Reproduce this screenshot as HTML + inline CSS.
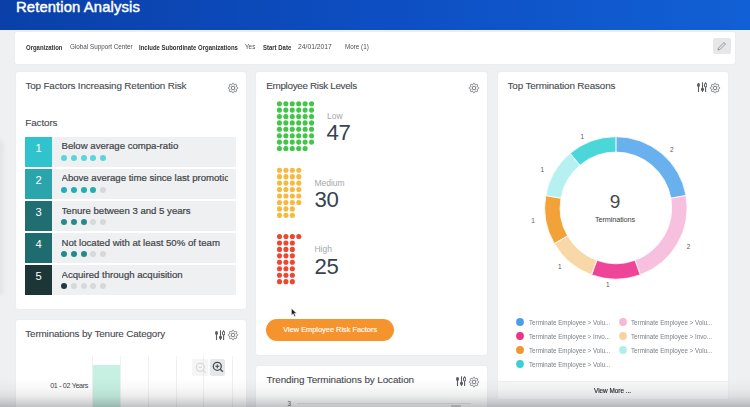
<!DOCTYPE html>
<html><head><meta charset="utf-8">
<style>
*{margin:0;padding:0;box-sizing:border-box}
html,body{width:750px;height:407px;overflow:hidden;background:#eff0f2;font-family:"Liberation Sans",sans-serif;position:relative}
.a{position:absolute;white-space:nowrap}
.hdr{left:0;top:0;width:750px;height:29.5px;background:linear-gradient(90deg,#0a40a8 0%,#0d4ec2 50%,#1260d5 100%)}
.ttl{left:16px;top:-1.3px;color:#fff;font-weight:normal;font-size:14.8px;letter-spacing:0.12px;line-height:16px;-webkit-text-stroke:0.45px #fff}
.card{background:#fff;border-radius:2px;box-shadow:0 0 1.5px rgba(0,0,0,0.08)}
.ct{font-size:9.9px;color:#45494e;line-height:11px;letter-spacing:-0.12px;-webkit-text-stroke:0.1px #45494e}
.fl{font-size:7px;font-weight:bold;color:#2e3034;line-height:8px;transform:scaleX(0.853);transform-origin:0 0}
.fv{font-size:7px;color:#4c5055;line-height:8px;transform:scaleX(0.9);transform-origin:0 0}
.row{left:25px;width:211px;height:30.2px;background:#eef0f2}
.num{left:0;top:0;width:27px;height:30.2px;color:#fff;font-size:11.2px;text-align:center;line-height:22.5px}
.rt{left:36.5px;top:3.8px;font-size:9.6px;color:#3f4347;line-height:11px;overflow:hidden;width:166px;-webkit-text-stroke:0.2px #3f4347}
.dot{position:absolute;border-radius:50%}
.lab{font-size:8.5px;color:#a3a7ab;line-height:10px}
.big{font-size:22.2px;color:#364352;line-height:22px;letter-spacing:-0.45px}
.dl{font-size:6.4px;color:#55595e;line-height:8px}
.leg{font-size:7.3px;color:#7c8085;line-height:9px;transform:scaleX(0.855);transform-origin:0 0}
</style></head><body>
<svg width="0" height="0" style="position:absolute">
<defs>
<symbol id="gear" viewBox="-6 -6 12 12"><path d="M0.00 -4.75 L0.12 -4.74 L0.25 -4.71 L0.37 -4.66 L0.48 -4.60 L0.59 -4.51 L0.70 -4.39 L0.78 -4.23 L0.83 -3.91 L0.90 -3.75 L0.97 -3.63 L1.04 -3.53 L1.12 -3.44 L1.20 -3.38 L1.28 -3.32 L1.36 -3.28 L1.45 -3.25 L1.54 -3.23 L1.64 -3.23 L1.76 -3.23 L1.88 -3.25 L2.01 -3.29 L2.18 -3.35 L2.44 -3.55 L2.61 -3.60 L2.77 -3.61 L2.91 -3.59 L3.04 -3.56 L3.16 -3.51 L3.26 -3.44 L3.36 -3.36 L3.44 -3.26 L3.51 -3.16 L3.56 -3.04 L3.59 -2.91 L3.61 -2.77 L3.60 -2.61 L3.55 -2.44 L3.35 -2.18 L3.29 -2.01 L3.25 -1.88 L3.23 -1.76 L3.23 -1.64 L3.23 -1.54 L3.25 -1.45 L3.28 -1.36 L3.32 -1.28 L3.38 -1.20 L3.44 -1.12 L3.53 -1.04 L3.63 -0.97 L3.75 -0.90 L3.91 -0.83 L4.23 -0.78 L4.39 -0.70 L4.51 -0.59 L4.60 -0.48 L4.66 -0.37 L4.71 -0.25 L4.74 -0.12 L4.75 -0.00 L4.74 0.12 L4.71 0.25 L4.66 0.37 L4.60 0.48 L4.51 0.59 L4.39 0.70 L4.23 0.78 L3.91 0.83 L3.75 0.90 L3.63 0.97 L3.53 1.04 L3.44 1.12 L3.38 1.20 L3.32 1.28 L3.28 1.36 L3.25 1.45 L3.23 1.54 L3.23 1.64 L3.23 1.76 L3.25 1.88 L3.29 2.01 L3.35 2.18 L3.55 2.44 L3.60 2.61 L3.61 2.77 L3.59 2.91 L3.56 3.04 L3.51 3.16 L3.44 3.26 L3.36 3.36 L3.26 3.44 L3.16 3.51 L3.04 3.56 L2.91 3.59 L2.77 3.61 L2.61 3.60 L2.44 3.55 L2.18 3.35 L2.01 3.29 L1.88 3.25 L1.76 3.23 L1.64 3.23 L1.54 3.23 L1.45 3.25 L1.36 3.28 L1.28 3.32 L1.20 3.38 L1.12 3.44 L1.04 3.53 L0.97 3.63 L0.90 3.75 L0.83 3.91 L0.78 4.23 L0.70 4.39 L0.59 4.51 L0.48 4.60 L0.37 4.66 L0.25 4.71 L0.12 4.74 L0.00 4.75 L-0.12 4.74 L-0.25 4.71 L-0.37 4.66 L-0.48 4.60 L-0.59 4.51 L-0.70 4.39 L-0.78 4.23 L-0.83 3.91 L-0.90 3.75 L-0.97 3.63 L-1.04 3.53 L-1.12 3.44 L-1.20 3.38 L-1.28 3.32 L-1.36 3.28 L-1.45 3.25 L-1.54 3.23 L-1.64 3.23 L-1.76 3.23 L-1.88 3.25 L-2.01 3.29 L-2.18 3.35 L-2.44 3.55 L-2.61 3.60 L-2.77 3.61 L-2.91 3.59 L-3.04 3.56 L-3.16 3.51 L-3.26 3.44 L-3.36 3.36 L-3.44 3.26 L-3.51 3.16 L-3.56 3.04 L-3.59 2.91 L-3.61 2.77 L-3.60 2.61 L-3.55 2.44 L-3.35 2.18 L-3.29 2.01 L-3.25 1.88 L-3.23 1.76 L-3.23 1.64 L-3.23 1.54 L-3.25 1.45 L-3.28 1.36 L-3.32 1.28 L-3.38 1.20 L-3.44 1.12 L-3.53 1.04 L-3.63 0.97 L-3.75 0.90 L-3.91 0.83 L-4.23 0.78 L-4.39 0.70 L-4.51 0.59 L-4.60 0.48 L-4.66 0.37 L-4.71 0.25 L-4.74 0.12 L-4.75 0.00 L-4.74 -0.12 L-4.71 -0.25 L-4.66 -0.37 L-4.60 -0.48 L-4.51 -0.59 L-4.39 -0.70 L-4.23 -0.78 L-3.91 -0.83 L-3.75 -0.90 L-3.63 -0.97 L-3.53 -1.04 L-3.44 -1.12 L-3.38 -1.20 L-3.32 -1.28 L-3.28 -1.36 L-3.25 -1.45 L-3.23 -1.54 L-3.23 -1.64 L-3.23 -1.76 L-3.25 -1.88 L-3.29 -2.01 L-3.35 -2.18 L-3.55 -2.44 L-3.60 -2.61 L-3.61 -2.77 L-3.59 -2.91 L-3.56 -3.04 L-3.51 -3.16 L-3.44 -3.26 L-3.36 -3.36 L-3.26 -3.44 L-3.16 -3.51 L-3.04 -3.56 L-2.91 -3.59 L-2.77 -3.61 L-2.61 -3.60 L-2.44 -3.55 L-2.18 -3.35 L-2.01 -3.29 L-1.88 -3.25 L-1.76 -3.23 L-1.64 -3.23 L-1.54 -3.23 L-1.45 -3.25 L-1.36 -3.28 L-1.28 -3.32 L-1.20 -3.38 L-1.12 -3.44 L-1.04 -3.53 L-0.97 -3.63 L-0.90 -3.75 L-0.83 -3.91 L-0.78 -4.23 L-0.70 -4.39 L-0.59 -4.51 L-0.48 -4.60 L-0.37 -4.66 L-0.25 -4.71 L-0.12 -4.74 Z" fill="none" stroke="#55595e" stroke-width="0.8" stroke-linejoin="round"/><circle r="1.8" fill="none" stroke="#55595e" stroke-width="0.8"/></symbol>
<symbol id="sld" viewBox="0 0 10 10"><g fill="#585c61" stroke="#585c61"><ellipse cx="1.5" cy="3.1" rx="1.5" ry="2.1" stroke="none"/><line x1="1.5" y1="4.6" x2="1.5" y2="10" stroke-width="1.1"/><line x1="5.5" y1="0.3" x2="5.5" y2="6" stroke-width="1"/><ellipse cx="5.5" cy="7.3" rx="1.5" ry="1.9" stroke="none"/><line x1="5.5" y1="8.8" x2="5.5" y2="10" stroke-width="1.1"/><ellipse cx="8.6" cy="3.2" rx="1.2" ry="1.75" fill="none" stroke-width="1.05"/><line x1="8.6" y1="0.3" x2="8.6" y2="1.5" stroke-width="1.05"/><line x1="8.6" y1="4.9" x2="8.6" y2="10" stroke-width="1.1"/></g></symbol>
</defs></svg>
<div class="a hdr"></div>
<div class="a ttl">Retention Analysis</div>

<!-- filter bar -->
<div class="a card" style="left:15.2px;top:32.2px;width:720.2px;height:31.6px"></div>
<div class="a fl" style="left:26.4px;top:43.5px">Organization</div>
<div class="a fv" style="left:69.9px;top:42.6px">Global Support Center</div>
<div class="a fl" style="left:139px;top:43.5px">Include Subordinate Organizations</div>
<div class="a fv" style="left:245.4px;top:42.6px">Yes</div>
<div class="a fl" style="left:262.5px;top:43.5px">Start Date</div>
<div class="a fv" style="left:297.7px;top:42.6px;transform:scaleX(0.965)">24/01/2017</div>
<div class="a fv" style="left:345px;top:42.6px">More (1)</div>
<div class="a" style="left:712.8px;top:38.4px;width:18px;height:16px;background:#e6e7e9;border-radius:2px"></div>
<svg class="a" style="left:716px;top:41px" width="11" height="11" viewBox="0 0 11 11"><path d="M2 9 L2.5 7 L8 1.5 L9.5 3 L4 8.5 Z" fill="none" stroke="#8a8d91" stroke-width="0.9"/></svg>

<div class="a" style="left:-3px;top:140px;width:6px;height:155px;background:rgba(0,0,0,0.05);filter:blur(2px);border-radius:3px"></div>
<!-- card 1 -->
<div class="a card" style="left:15.5px;top:72.2px;width:230.5px;height:236.6px"></div>
<div class="a ct" style="letter-spacing:-0.165px;left:25.5px;top:80.3px">Top Factors Increasing Retention Risk</div>
<div class="a ct" style="left:25.3px;top:117px">Factors</div>

<div class="a row" style="top:136.5px"><div class="a num" style="background:#30c3ce">1</div><div class="a rt">Below average compa-ratio</div>
<div class="dot" style="left:36.30px;top:18.00px;width:6px;height:6px;background:#5ad5dc"></div><div class="dot" style="left:45.95px;top:18.00px;width:6px;height:6px;background:#5ad5dc"></div><div class="dot" style="left:55.60px;top:18.00px;width:6px;height:6px;background:#5ad5dc"></div><div class="dot" style="left:65.25px;top:18.00px;width:6px;height:6px;background:#5ad5dc"></div><div class="dot" style="left:74.90px;top:18.00px;width:6px;height:6px;background:#5ad5dc"></div></div>

<div class="a row" style="top:168.7px"><div class="a num" style="background:#2aa5ab">2</div><div class="a rt">Above average time since last promotion</div>
<div class="dot" style="left:36.30px;top:18.00px;width:6px;height:6px;background:#22aeb3"></div><div class="dot" style="left:45.95px;top:18.00px;width:6px;height:6px;background:#22aeb3"></div><div class="dot" style="left:55.60px;top:18.00px;width:6px;height:6px;background:#22aeb3"></div><div class="dot" style="left:65.25px;top:18.00px;width:6px;height:6px;background:#22aeb3"></div><div class="dot" style="left:74.90px;top:18.00px;width:6px;height:6px;background:#d6d8da"></div></div>

<div class="a row" style="top:200.9px"><div class="a num" style="background:#216e72">3</div><div class="a rt">Tenure between 3 and 5 years</div>
<div class="dot" style="left:36.30px;top:18.00px;width:6px;height:6px;background:#278c88"></div><div class="dot" style="left:45.95px;top:18.00px;width:6px;height:6px;background:#278c88"></div><div class="dot" style="left:55.60px;top:18.00px;width:6px;height:6px;background:#278c88"></div><div class="dot" style="left:65.25px;top:18.00px;width:6px;height:6px;background:#d6d8da"></div><div class="dot" style="left:74.90px;top:18.00px;width:6px;height:6px;background:#d6d8da"></div></div>

<div class="a row" style="top:233.1px"><div class="a num" style="background:#1f6c70">4</div><div class="a rt">Not located with at least 50% of team</div>
<div class="dot" style="left:36.30px;top:18.00px;width:6px;height:6px;background:#258a87"></div><div class="dot" style="left:45.95px;top:18.00px;width:6px;height:6px;background:#258a87"></div><div class="dot" style="left:55.60px;top:18.00px;width:6px;height:6px;background:#258a87"></div><div class="dot" style="left:65.25px;top:18.00px;width:6px;height:6px;background:#d6d8da"></div><div class="dot" style="left:74.90px;top:18.00px;width:6px;height:6px;background:#d6d8da"></div></div>

<div class="a row" style="top:265.3px"><div class="a num" style="background:#1c3537">5</div><div class="a rt">Acquired through acquisition</div>
<div class="dot" style="left:36.30px;top:18.00px;width:6px;height:6px;background:#1d3d3c"></div><div class="dot" style="left:45.95px;top:18.00px;width:6px;height:6px;background:#d6d8da"></div><div class="dot" style="left:55.60px;top:18.00px;width:6px;height:6px;background:#d6d8da"></div><div class="dot" style="left:65.25px;top:18.00px;width:6px;height:6px;background:#d6d8da"></div><div class="dot" style="left:74.90px;top:18.00px;width:6px;height:6px;background:#d6d8da"></div></div>

<!-- card 4 -->
<div class="a card" style="left:15.5px;top:319.5px;width:230.5px;height:100px"></div>
<div class="a ct" style="letter-spacing:-0.16px;left:25.3px;top:327.8px">Terminations by Tenure Category</div>
<div class="a" style="left:92.2px;top:356.3px;width:0.8px;height:60px;background:#f0f0f2"></div>
<div class="a" style="left:120.2px;top:356.3px;width:0.8px;height:60px;background:#f0f0f2"></div>
<div class="a" style="left:148px;top:356.3px;width:0.8px;height:60px;background:#f0f0f2"></div>
<div class="a" style="left:176px;top:356.3px;width:0.8px;height:60px;background:#f0f0f2"></div>
<div class="a" style="left:203.2px;top:356.3px;width:0.8px;height:60px;background:#f0f0f2"></div>
<div class="a" style="left:231.5px;top:356.3px;width:0.8px;height:60px;background:#f0f0f2"></div>
<div class="a" style="left:92.7px;top:365.4px;width:27.5px;height:50px;background:#c6f0e2"></div>
<div class="a" style="left:50.2px;top:382px;font-size:7.2px;color:#3f4347;line-height:8px;letter-spacing:-0.35px">01 - 02 Years</div>
<div class="a" style="left:192.3px;top:359px;width:15.3px;height:17px;background:rgba(225,227,230,0.35);border-radius:2px"></div>
<div class="a" style="left:209.5px;top:359px;width:15.9px;height:17px;background:#e6e7e9;border-radius:2px"></div>
<svg class="a" style="left:193.5px;top:360.5px" width="14" height="14" viewBox="0 0 14 14"><circle cx="6.3" cy="6.3" r="4" fill="none" stroke="#d3d5d7" stroke-width="1.1"/><line x1="4.5" y1="6.3" x2="8.1" y2="6.3" stroke="#d3d5d7" stroke-width="1"/><line x1="9.2" y1="9.2" x2="11.6" y2="11.6" stroke="#d3d5d7" stroke-width="1.2"/></svg>
<svg class="a" style="left:210.5px;top:360.4px" width="14" height="14" viewBox="0 0 14 14"><circle cx="6.3" cy="6.3" r="4" fill="none" stroke="#4a4e52" stroke-width="1.3"/><line x1="4.4" y1="6.3" x2="8.2" y2="6.3" stroke="#4a4e52" stroke-width="1.1"/><line x1="6.3" y1="4.4" x2="6.3" y2="8.2" stroke="#4a4e52" stroke-width="1.1"/><line x1="9.3" y1="9.3" x2="11.8" y2="11.8" stroke="#4a4e52" stroke-width="1.4"/></svg>

<!-- card 2 -->
<div class="a card" style="left:256px;top:72.2px;width:230.5px;height:283.1px"></div>
<div class="a ct" style="letter-spacing:-0.33px;left:266.3px;top:80.4px">Employee Risk Levels</div>
<svg class="a" style="left:0;top:0" width="750" height="407"><circle cx="279.40" cy="103.70" r="2.55" fill="#42c649"/><circle cx="285.83" cy="103.70" r="2.55" fill="#42c649"/><circle cx="292.26" cy="103.70" r="2.55" fill="#42c649"/><circle cx="298.69" cy="103.70" r="2.55" fill="#42c649"/><circle cx="305.12" cy="103.70" r="2.55" fill="#42c649"/><circle cx="311.55" cy="103.70" r="2.55" fill="#42c649"/><circle cx="279.40" cy="110.10" r="2.55" fill="#42c649"/><circle cx="285.83" cy="110.10" r="2.55" fill="#42c649"/><circle cx="292.26" cy="110.10" r="2.55" fill="#42c649"/><circle cx="298.69" cy="110.10" r="2.55" fill="#42c649"/><circle cx="305.12" cy="110.10" r="2.55" fill="#42c649"/><circle cx="311.55" cy="110.10" r="2.55" fill="#42c649"/><circle cx="279.40" cy="116.50" r="2.55" fill="#42c649"/><circle cx="285.83" cy="116.50" r="2.55" fill="#42c649"/><circle cx="292.26" cy="116.50" r="2.55" fill="#42c649"/><circle cx="298.69" cy="116.50" r="2.55" fill="#42c649"/><circle cx="305.12" cy="116.50" r="2.55" fill="#42c649"/><circle cx="311.55" cy="116.50" r="2.55" fill="#42c649"/><circle cx="279.40" cy="122.90" r="2.55" fill="#42c649"/><circle cx="285.83" cy="122.90" r="2.55" fill="#42c649"/><circle cx="292.26" cy="122.90" r="2.55" fill="#42c649"/><circle cx="298.69" cy="122.90" r="2.55" fill="#42c649"/><circle cx="305.12" cy="122.90" r="2.55" fill="#42c649"/><circle cx="311.55" cy="122.90" r="2.55" fill="#42c649"/><circle cx="279.40" cy="129.30" r="2.55" fill="#42c649"/><circle cx="285.83" cy="129.30" r="2.55" fill="#42c649"/><circle cx="292.26" cy="129.30" r="2.55" fill="#42c649"/><circle cx="298.69" cy="129.30" r="2.55" fill="#42c649"/><circle cx="305.12" cy="129.30" r="2.55" fill="#42c649"/><circle cx="311.55" cy="129.30" r="2.55" fill="#42c649"/><circle cx="279.40" cy="135.70" r="2.55" fill="#42c649"/><circle cx="285.83" cy="135.70" r="2.55" fill="#42c649"/><circle cx="292.26" cy="135.70" r="2.55" fill="#42c649"/><circle cx="298.69" cy="135.70" r="2.55" fill="#42c649"/><circle cx="305.12" cy="135.70" r="2.55" fill="#42c649"/><circle cx="311.55" cy="135.70" r="2.55" fill="#42c649"/><circle cx="279.40" cy="142.10" r="2.55" fill="#42c649"/><circle cx="285.83" cy="142.10" r="2.55" fill="#42c649"/><circle cx="292.26" cy="142.10" r="2.55" fill="#42c649"/><circle cx="298.69" cy="142.10" r="2.55" fill="#42c649"/><circle cx="305.12" cy="142.10" r="2.55" fill="#42c649"/><circle cx="311.55" cy="142.10" r="2.55" fill="#42c649"/><circle cx="279.40" cy="148.50" r="2.55" fill="#42c649"/><circle cx="285.83" cy="148.50" r="2.55" fill="#42c649"/><circle cx="292.26" cy="148.50" r="2.55" fill="#42c649"/><circle cx="298.69" cy="148.50" r="2.55" fill="#42c649"/><circle cx="305.12" cy="148.50" r="2.55" fill="#42c649"/></svg><svg class="a" style="left:0;top:0" width="750" height="407"><circle cx="279.50" cy="170.20" r="2.55" fill="#f7b93d"/><circle cx="285.93" cy="170.20" r="2.55" fill="#f7b93d"/><circle cx="292.36" cy="170.20" r="2.55" fill="#f7b93d"/><circle cx="298.79" cy="170.20" r="2.55" fill="#f7b93d"/><circle cx="279.50" cy="176.65" r="2.55" fill="#f7b93d"/><circle cx="285.93" cy="176.65" r="2.55" fill="#f7b93d"/><circle cx="292.36" cy="176.65" r="2.55" fill="#f7b93d"/><circle cx="298.79" cy="176.65" r="2.55" fill="#f7b93d"/><circle cx="279.50" cy="183.10" r="2.55" fill="#f7b93d"/><circle cx="285.93" cy="183.10" r="2.55" fill="#f7b93d"/><circle cx="292.36" cy="183.10" r="2.55" fill="#f7b93d"/><circle cx="298.79" cy="183.10" r="2.55" fill="#f7b93d"/><circle cx="279.50" cy="189.55" r="2.55" fill="#f7b93d"/><circle cx="285.93" cy="189.55" r="2.55" fill="#f7b93d"/><circle cx="292.36" cy="189.55" r="2.55" fill="#f7b93d"/><circle cx="298.79" cy="189.55" r="2.55" fill="#f7b93d"/><circle cx="279.50" cy="196.00" r="2.55" fill="#f7b93d"/><circle cx="285.93" cy="196.00" r="2.55" fill="#f7b93d"/><circle cx="292.36" cy="196.00" r="2.55" fill="#f7b93d"/><circle cx="298.79" cy="196.00" r="2.55" fill="#f7b93d"/><circle cx="279.50" cy="202.45" r="2.55" fill="#f7b93d"/><circle cx="285.93" cy="202.45" r="2.55" fill="#f7b93d"/><circle cx="292.36" cy="202.45" r="2.55" fill="#f7b93d"/><circle cx="298.79" cy="202.45" r="2.55" fill="#f7b93d"/><circle cx="279.50" cy="208.90" r="2.55" fill="#f7b93d"/><circle cx="285.93" cy="208.90" r="2.55" fill="#f7b93d"/><circle cx="292.36" cy="208.90" r="2.55" fill="#f7b93d"/><circle cx="279.50" cy="215.35" r="2.55" fill="#f7b93d"/><circle cx="285.93" cy="215.35" r="2.55" fill="#f7b93d"/><circle cx="292.36" cy="215.35" r="2.55" fill="#f7b93d"/></svg><svg class="a" style="left:0;top:0" width="750" height="407"><circle cx="279.50" cy="236.50" r="2.55" fill="#f04630"/><circle cx="285.93" cy="236.50" r="2.55" fill="#f04630"/><circle cx="292.36" cy="236.50" r="2.55" fill="#f04630"/><circle cx="298.79" cy="236.50" r="2.55" fill="#f04630"/><circle cx="279.50" cy="242.95" r="2.55" fill="#f04630"/><circle cx="285.93" cy="242.95" r="2.55" fill="#f04630"/><circle cx="292.36" cy="242.95" r="2.55" fill="#f04630"/><circle cx="279.50" cy="249.40" r="2.55" fill="#f04630"/><circle cx="285.93" cy="249.40" r="2.55" fill="#f04630"/><circle cx="292.36" cy="249.40" r="2.55" fill="#f04630"/><circle cx="279.50" cy="255.85" r="2.55" fill="#f04630"/><circle cx="285.93" cy="255.85" r="2.55" fill="#f04630"/><circle cx="292.36" cy="255.85" r="2.55" fill="#f04630"/><circle cx="279.50" cy="262.30" r="2.55" fill="#f04630"/><circle cx="285.93" cy="262.30" r="2.55" fill="#f04630"/><circle cx="292.36" cy="262.30" r="2.55" fill="#f04630"/><circle cx="279.50" cy="268.75" r="2.55" fill="#f04630"/><circle cx="285.93" cy="268.75" r="2.55" fill="#f04630"/><circle cx="292.36" cy="268.75" r="2.55" fill="#f04630"/><circle cx="279.50" cy="275.20" r="2.55" fill="#f04630"/><circle cx="285.93" cy="275.20" r="2.55" fill="#f04630"/><circle cx="292.36" cy="275.20" r="2.55" fill="#f04630"/><circle cx="279.50" cy="281.65" r="2.55" fill="#f04630"/><circle cx="285.93" cy="281.65" r="2.55" fill="#f04630"/><circle cx="292.36" cy="281.65" r="2.55" fill="#f04630"/></svg>
<div class="a lab" style="left:327px;top:111px">Low</div>
<div class="a big" style="left:326.5px;top:122px">47</div>
<div class="a lab" style="left:314.4px;top:177.5px">Medium</div>
<div class="a big" style="left:314.5px;top:188.6px">30</div>
<div class="a lab" style="left:314.4px;top:243.5px">High</div>
<div class="a big" style="left:314.5px;top:255.5px">25</div>
<div class="a" style="left:266px;top:319.3px;width:128.3px;height:21.4px;border-radius:11px;background:#f5932c;color:#fff;font-size:7.4px;-webkit-text-stroke:0.15px #fff;line-height:21.4px;text-align:center">View Employee Risk Factors</div>

<!-- card 5 -->
<div class="a card" style="left:256px;top:366.4px;width:230.5px;height:60px"></div>
<div class="a ct" style="letter-spacing:-0.09px;left:266.5px;top:374.2px">Trending Terminations by Location</div>
<div class="a" style="left:287.6px;top:399.5px;font-size:6.3px;color:#55595e;line-height:8px">3</div>
<div class="a" style="left:297.4px;top:403px;width:173.3px;height:0.8px;background:#e6e7e8"></div>
<div class="a" style="left:450.5px;top:404.6px;width:10.5px;height:3px;background:#d4d5d7"></div>

<!-- card 3 -->
<div class="a card" style="left:497.5px;top:72.2px;width:230.5px;height:327.3px"></div>
<div class="a ct" style="letter-spacing:-0.15px;left:507.5px;top:80.4px">Top Termination Reasons</div>
<svg class="a" style="left:0;top:0" width="750" height="407"><path d="M615.90 136.70 A71.2 71.2 0 0 1 686.02 195.54 L670.85 198.21 A55.8 55.8 0 0 0 615.90 152.10 Z" fill="#68b0ee" stroke="#fff" stroke-width="0.8"/><path d="M686.02 195.54 A71.2 71.2 0 0 1 640.25 274.81 L634.98 260.33 A55.8 55.8 0 0 0 670.85 198.21 Z" fill="#f8c0df" stroke="#fff" stroke-width="0.8"/><path d="M640.25 274.81 A71.2 71.2 0 0 1 591.55 274.81 L596.82 260.33 A55.8 55.8 0 0 0 634.98 260.33 Z" fill="#ef4598" stroke="#fff" stroke-width="0.8"/><path d="M591.55 274.81 A71.2 71.2 0 0 1 554.24 243.50 L567.58 235.80 A55.8 55.8 0 0 0 596.82 260.33 Z" fill="#f9d8a8" stroke="#fff" stroke-width="0.8"/><path d="M554.24 243.50 A71.2 71.2 0 0 1 545.78 195.54 L560.95 198.21 A55.8 55.8 0 0 0 567.58 235.80 Z" fill="#f3a23a" stroke="#fff" stroke-width="0.8"/><path d="M545.78 195.54 A71.2 71.2 0 0 1 570.13 153.36 L580.03 165.15 A55.8 55.8 0 0 0 560.95 198.21 Z" fill="#b6f0f0" stroke="#fff" stroke-width="0.8"/><path d="M570.13 153.36 A71.2 71.2 0 0 1 615.90 136.70 L615.90 152.10 A55.8 55.8 0 0 0 580.03 165.15 Z" fill="#4bd7d7" stroke="#fff" stroke-width="0.8"/></svg>
<div class="a" style="left:595px;top:192px;width:40px;text-align:center;font-size:19px;color:#45484c;line-height:20px">9</div>
<div class="a" style="left:590px;top:214.5px;width:50px;text-align:center;font-size:7.3px;color:#3a3d41;line-height:9px;letter-spacing:-0.12px">Terminations</div>
<div class="a dl" style="left:670px;top:146px">2</div>
<div class="a dl" style="left:686.7px;top:243px">2</div>
<div class="a dl" style="left:606px;top:280.7px">1</div>
<div class="a dl" style="left:558px;top:263.2px">1</div>
<div class="a dl" style="left:531.3px;top:217.2px">1</div>
<div class="a dl" style="left:540.5px;top:166.2px">1</div>
<div class="a dl" style="left:580.6px;top:132.8px">1</div>
<svg class="a" style="left:515.40px;top:317.10px" width="10" height="10"><circle cx="5" cy="5" r="3.9" fill="#4a9fe8"/></svg>
<div class="a leg" style="left:528.90px;top:318.10px">Terminate Employee &gt; Volu...</div>
<svg class="a" style="left:515.40px;top:331.00px" width="10" height="10"><circle cx="5" cy="5" r="3.9" fill="#e8358c"/></svg>
<div class="a leg" style="left:528.90px;top:332.00px">Terminate Employee &gt; Invo...</div>
<svg class="a" style="left:515.40px;top:344.90px" width="10" height="10"><circle cx="5" cy="5" r="3.9" fill="#f0952f"/></svg>
<div class="a leg" style="left:528.90px;top:345.90px">Terminate Employee &gt; Volu...</div>
<svg class="a" style="left:515.40px;top:358.80px" width="10" height="10"><circle cx="5" cy="5" r="3.9" fill="#3ccfd3"/></svg>
<div class="a leg" style="left:528.90px;top:359.80px">Terminate Employee &gt; Volu...</div>
<svg class="a" style="left:617.70px;top:317.10px" width="10" height="10"><circle cx="5" cy="5" r="3.9" fill="#f6b8d8"/></svg>
<div class="a leg" style="left:631.20px;top:318.10px">Terminate Employee &gt; Volu...</div>
<svg class="a" style="left:617.70px;top:331.00px" width="10" height="10"><circle cx="5" cy="5" r="3.9" fill="#f7d29f"/></svg>
<div class="a leg" style="left:631.20px;top:332.00px">Terminate Employee &gt; Invo...</div>
<svg class="a" style="left:617.70px;top:344.90px" width="10" height="10"><circle cx="5" cy="5" r="3.9" fill="#b3eeee"/></svg>
<div class="a leg" style="left:631.20px;top:345.90px">Terminate Employee &gt; Volu...</div>
<div class="a" style="left:497.5px;top:381px;width:230.5px;height:18.2px;background:#f7f7f8;border-top:1px solid #f0f0f1"></div>
<div class="a" style="left:594.4px;top:387.3px;font-size:7.1px;color:#2f3236;line-height:9px;transform:scaleX(0.9);transform-origin:0 0;-webkit-text-stroke:0.2px #2f3236">View More ...</div>

<svg class="a" style="left:290.8px;top:307.6px" width="6.8" height="9.3" viewBox="0 0 8 11"><path d="M0.5 0.5 L0.5 8.5 L2.5 6.7 L4 10 L5.3 9.4 L3.9 6.2 L6.6 6.2 Z" fill="#1d1f22" stroke="#fff" stroke-width="0.5"/></svg>
<div class="a" style="left:0;top:378px;width:750px;height:29px;background:linear-gradient(180deg,rgba(40,44,50,0) 0%,rgba(40,44,50,0.03) 35%,rgba(40,44,50,0.09) 62%,rgba(40,44,50,0.19) 82%,rgba(40,44,50,0.29) 100%)"></div>
<svg class="a" style="left:226.80px;top:81.80px" width="12" height="12"><use href="#gear"/></svg>
<svg class="a" style="left:467.80px;top:81.60px" width="12" height="12"><use href="#gear"/></svg>
<svg class="a" style="left:709.00px;top:81.60px" width="12" height="12"><use href="#gear"/></svg>
<svg class="a" style="left:226.70px;top:329.00px" width="12" height="12"><use href="#gear"/></svg>
<svg class="a" style="left:467.80px;top:375.60px" width="12" height="12"><use href="#gear"/></svg>
<svg class="a" style="left:697.00px;top:82.00px" width="10" height="10" viewBox="0 0 10 10" preserveAspectRatio="none"><use href="#sld"/></svg>
<svg class="a" style="left:215.00px;top:330.00px" width="10" height="10" viewBox="0 0 10 10" preserveAspectRatio="none"><use href="#sld"/></svg>
<svg class="a" style="left:456.00px;top:376.00px" width="10" height="10" viewBox="0 0 10 10" preserveAspectRatio="none"><use href="#sld"/></svg>
</body></html>
